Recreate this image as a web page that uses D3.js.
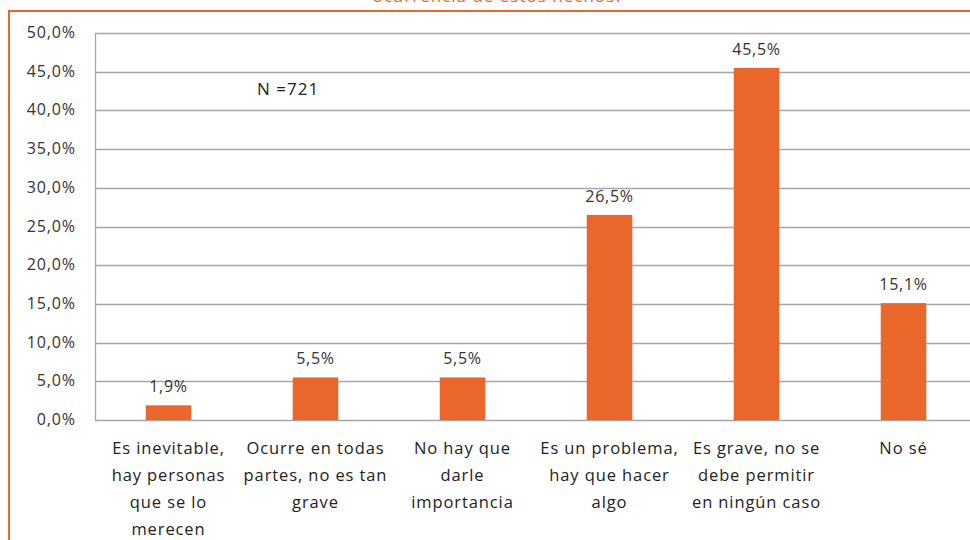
<!DOCTYPE html>
<html>
<head>
<meta charset="utf-8">
<script src="https://cdn.jsdelivr.net/npm/d3@7"></script>
<style>
  body { margin: 0; background: #fff; }
  svg { display: block; font-family: "Open Sans", "Noto Sans", sans-serif; }
</style>
</head>
<body>
<svg id="chart" width="970" height="540"></svg>
<script>
var categories = [
  ["Es inevitable,", "hay personas", "que se lo", "merecen"],
  ["Ocurre en todas", "partes, no es tan", "grave"],
  ["No hay que", "darle", "importancia"],
  ["Es un problema,", "hay que hacer", "algo"],
  ["Es grave, no se", "debe permitir", "en ningún caso"],
  ["No sé"]
]
var values = [1.9, 5.5, 5.5, 26.5, 45.5, 15.1]
var yTicks = [0, 5, 10, 15, 20, 25, 30, 35, 40, 45, 50]
var title = "ocurrencia de estos hechos?"
var note = "N =721"

var margin = {top: 33, right: -7, bottom: 120, left: 95}
var width = 970
var height = 540
var orange = "#E9672A"
var fmt = function(v){ return v.toFixed(1).replace(".", ",") + "%" }

var svg = d3.select("#chart")

// frame (only top/left visible in the crop)
svg.append("line").attr("x1", 9).attr("x2", 970).attr("y1", 11).attr("y2", 11)
  .attr("stroke", orange).attr("stroke-width", 2)
svg.append("line").attr("x1", 9).attr("x2", 9).attr("y1", 10).attr("y2", 540)
  .attr("stroke", orange).attr("stroke-width", 2)

// clipped title
svg.append("text").attr("x", 498).attr("y", 2)
  .attr("text-anchor", "middle").attr("fill", orange)
  .attr("font-size", 17).attr("letter-spacing", 1).text(title)

var x = d3.scaleBand()
  .domain(d3.range(values.length))
  .range([margin.left, width - margin.right])
  .paddingInner(0.69).paddingOuter(0.345)

var y = d3.scaleLinear().domain([0, 50]).range([height - margin.bottom, margin.top])

var g = svg.append("g")

// gridlines
g.selectAll("line.grid").data(yTicks).enter().append("line")
  .attr("class", "grid")
  .attr("x1", margin.left).attr("x2", width)
  .attr("y1", function(d){ return Math.round(y(d)) + 0.5 })
  .attr("y2", function(d){ return Math.round(y(d)) + 0.5 })
  .attr("stroke", "#a6a6a6").attr("stroke-width", 1.3)

// y axis line
g.append("line")
  .attr("x1", margin.left + 0.5).attr("x2", margin.left + 0.5)
  .attr("y1", y(50)).attr("y2", y(0))
  .attr("stroke", "#a6a6a6").attr("stroke-width", 1.3)

// y tick labels
g.selectAll("text.ytick").data(yTicks).enter().append("text")
  .attr("class", "ytick")
  .attr("x", 76).attr("y", function(d){ return y(d) + 5 })
  .attr("text-anchor", "end").attr("font-size", 16).attr("letter-spacing", 0.9)
  .attr("fill", "#333")
  .text(fmt)

// bars
g.selectAll("rect.bar").data(values).enter().append("rect")
  .attr("class", "bar")
  .attr("x", function(d, i){ return x(i) })
  .attr("width", x.bandwidth())
  .attr("y", function(d){ return y(d) })
  .attr("height", function(d){ return y(0) - y(d) })
  .attr("fill", orange)

// value labels
g.selectAll("text.val").data(values).enter().append("text")
  .attr("class", "val")
  .attr("x", function(d, i){ return x(i) + x.bandwidth() / 2 })
  .attr("y", function(d){ return y(d) - 13 })
  .attr("text-anchor", "middle").attr("font-size", 16).attr("letter-spacing", 0.7)
  .attr("fill", "#333")
  .text(fmt)

// category labels
var cat = g.selectAll("text.cat").data(categories).enter().append("text")
  .attr("class", "cat")
  .attr("text-anchor", "middle").attr("font-size", 16.5).attr("letter-spacing", 0.9)
  .attr("fill", "#222")
cat.each(function(lines, i){
  var t = d3.select(this)
  lines.forEach(function(l, j){
    t.append("tspan")
      .attr("x", x(i) + x.bandwidth() / 2)
      .attr("y", 454 + j * 27)
      .text(l)
  })
})

// note
svg.append("text").attr("x", 257).attr("y", 95)
  .attr("font-size", 17).attr("letter-spacing", 1).attr("fill", "#222").text(note)
</script>
</body>
</html>
